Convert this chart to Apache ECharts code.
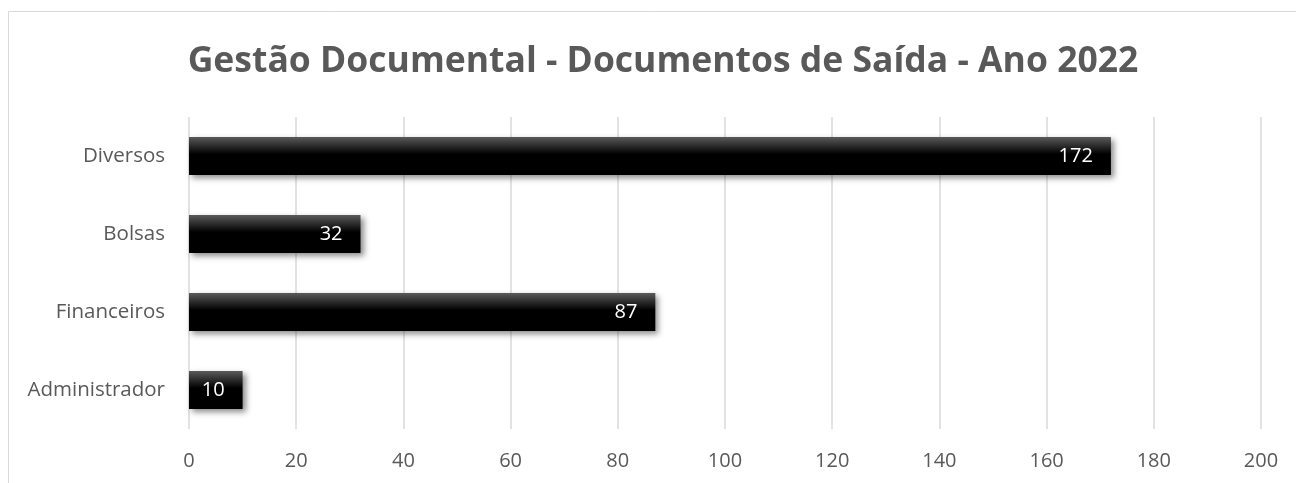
<!DOCTYPE html>
<html>
<head>
<meta charset="utf-8">
<script src="https://cdn.jsdelivr.net/npm/echarts@6/dist/echarts.min.js"></script>
<style>
  html, body { margin: 0; padding: 0; background: #fff; }
  #main { width: 1296px; height: 483px; }
</style>
</head>
<body>
<div id="main"></div>
<script>
var categories = ['Administrador', 'Financeiros', 'Bolsas', 'Diversos'];
var values = [10, 87, 32, 172];
var xTicks = [0, 20, 40, 60, 80, 100, 120, 140, 160, 180, 200];

var myChart = echarts.init(document.getElementById('main'));
var font = 'Open Sans';

var option = {
    animation: false,
    title: {
        text: 'Gestão Documental - Documentos de Saída - Ano 2022',
        left: 658,
        top: 39,
        textAlign: 'center',
        textStyle: { fontFamily: font, fontWeight: 'bold', fontSize: 35.5, color: '#595959' }
    },
    graphic: [{
        type: 'rect',
        shape: { x: 8.5, y: 11.5, width: 1400, height: 600 },
        style: { fill: 'none', stroke: '#d9d9d9', lineWidth: 1 },
        silent: true
    }],
    grid: { left: 189, right: 35, top: 117, bottom: 54, containLabel: false },
    xAxis: {
        type: 'value',
        min: xTicks[0],
        max: xTicks[xTicks.length - 1],
        interval: 20,
        axisLine: { show: false },
        axisTick: { show: false },
        splitLine: { lineStyle: { color: '#d9d9d9', width: 1.5 } },
        axisLabel: { fontFamily: font, fontSize: 20, color: '#595959', margin: 22 }
    },
    yAxis: {
        type: 'category',
        data: categories,
        axisLine: { show: false },
        axisTick: { show: false },
        axisLabel: { fontFamily: font, fontSize: 20.5, color: '#595959', margin: 24 }
    },
    series: [{
        type: 'bar',
        data: values,
        barWidth: 38,
        itemStyle: {
            color: new echarts.graphic.LinearGradient(0, 0, 0, 1, [
                { offset: 0, color: '#5a5a5a' },
                { offset: 0.45, color: '#000000' },
                { offset: 1, color: '#000000' }
            ]),
            shadowColor: 'rgba(0,0,0,0.45)',
            shadowBlur: 6,
            shadowOffsetX: 3,
            shadowOffsetY: 3
        },
        label: {
            show: true,
            position: 'insideRight',
            distance: 18,
            color: '#ffffff',
            fontFamily: font,
            fontSize: 20
        }
    }]
};

myChart.setOption(option);
window.onresize = function () {
    myChart.resize();
};
</script>
</body>
</html>
